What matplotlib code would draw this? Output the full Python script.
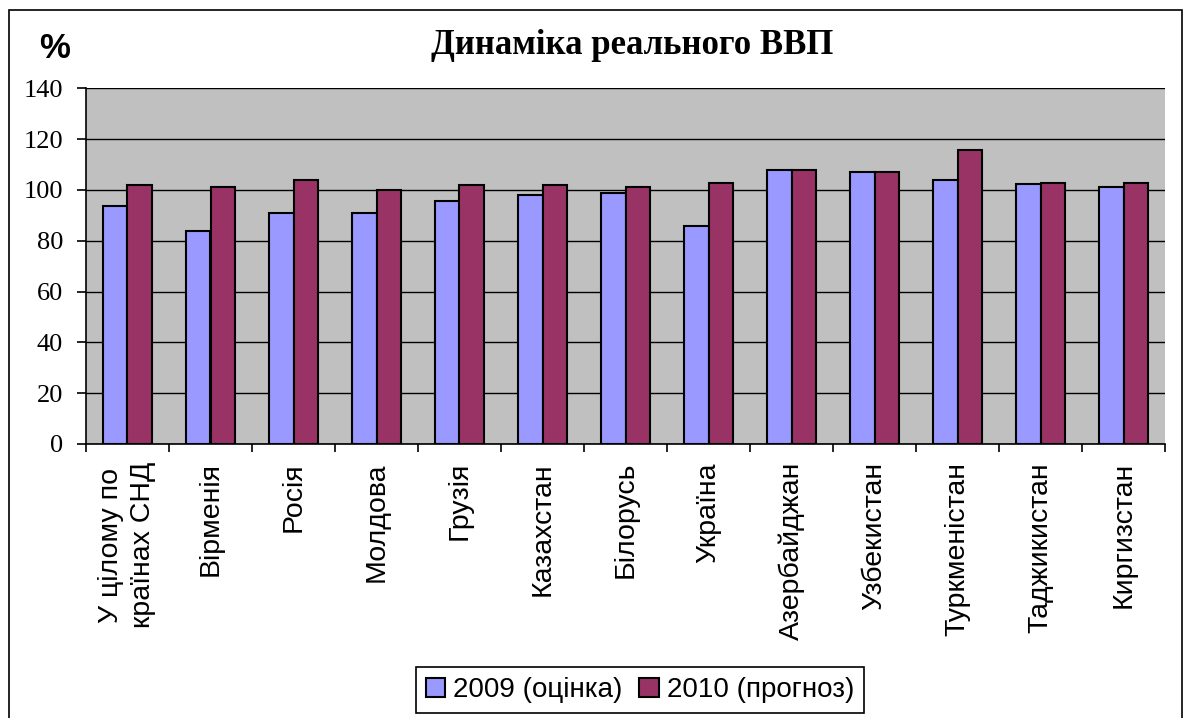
import numpy as np
import matplotlib.pyplot as plt
from matplotlib.patches import Rectangle

# data
countries = ['У цілому по\nкраїнах СНД', 'Вірменія', 'Росія', 'Молдова', 'Грузія',
             'Казахстан', 'Білорусь', 'Україна', 'Азербайджан', 'Узбекистан',
             'Туркменістан', 'Таджикистан', 'Киргизстан']
gdp_2009 = [93.6, 84.0, 91.1, 91.1, 95.8, 98.2, 98.9, 85.8, 107.7, 106.9, 103.8, 102.2, 101.3]
gdp_2010 = [102.1, 101.3, 103.9, 99.9, 102.1, 102.1, 101.3, 102.9, 107.7, 106.9, 115.6, 102.9, 102.9]
series_names = ['2009 (оцінка)', '2010 (прогноз)']
yticks = [0, 20, 40, 60, 80, 100, 120, 140]

W, H = 1185, 718
fig = plt.figure(figsize=(W / 100, H / 100), dpi=100)
ax = fig.add_axes([86 / W, 1 - 444 / H, (1165 - 86) / W, (444 - 88.3) / H])

x = np.arange(len(countries))
w = 0.29
ax.bar(x - w / 2, gdp_2009, w, color='#9999FF', edgecolor='black', linewidth=1.5,
       label=series_names[0], zorder=3)
ax.bar(x + w / 2, gdp_2010, w, color='#993366', edgecolor='black', linewidth=1.5,
       label=series_names[1], zorder=3)

ax.set_facecolor('#C0C0C0')
ax.set_xlim(-0.5, len(countries) - 0.5)
ax.set_ylim(0, 140)
ax.set_yticks(yticks)
ax.set_yticklabels([str(v) for v in yticks], fontsize=19, fontfamily='Liberation Serif')
ax.yaxis.grid(True, color='black', linewidth=1)
ax.set_axisbelow(True)
for s in ['top', 'right']:
    ax.spines[s].set_visible(False)
for s in ['left', 'bottom']:
    ax.spines[s].set_linewidth(1.2)

ax.tick_params(axis='y', direction='out', length=6.5, width=1.2, pad=10)
ax.set_xticks(x)
ax.set_xticklabels(countries, rotation=90, fontsize=20.5, fontfamily='Liberation Sans',
                   va='top', ha='center', multialignment='center', linespacing=1.3)
ax.tick_params(axis='x', which='major', length=0, pad=13)
ax.set_xticks(np.arange(-0.5, len(countries)), minor=True)
ax.tick_params(axis='x', which='minor', direction='out', length=6, width=1.2)

fig.text(632 / W, 1 - 45 / H, 'Динаміка реального ВВП', ha='center', va='center',
         fontsize=25, fontweight='bold', fontfamily='Liberation Serif')
fig.text(55 / W, 1 - 48 / H, '%', ha='center', va='center',
         fontsize=25, fontweight='bold', fontfamily='Liberation Sans')

leg = fig.legend(loc='center', bbox_to_anchor=(640 / W, 1 - 690 / H), ncol=2,
                 fancybox=False, edgecolor='black', framealpha=1,
                 prop={'family': 'Liberation Sans', 'size': 20},
                 handlelength=0.7, handleheight=0.7, handletextpad=0.3,
                 columnspacing=0.6, borderpad=0.35, borderaxespad=0)
leg.get_frame().set_linewidth(1.2)

# outer chart frame
fig.patches.append(Rectangle((9 / W, -0.01), (1182 - 9) / W, 1 - 10 / H + 0.01,
                             transform=fig.transFigure, fill=False,
                             edgecolor='black', linewidth=1.2))

fig.savefig('out.png', dpi=100)
